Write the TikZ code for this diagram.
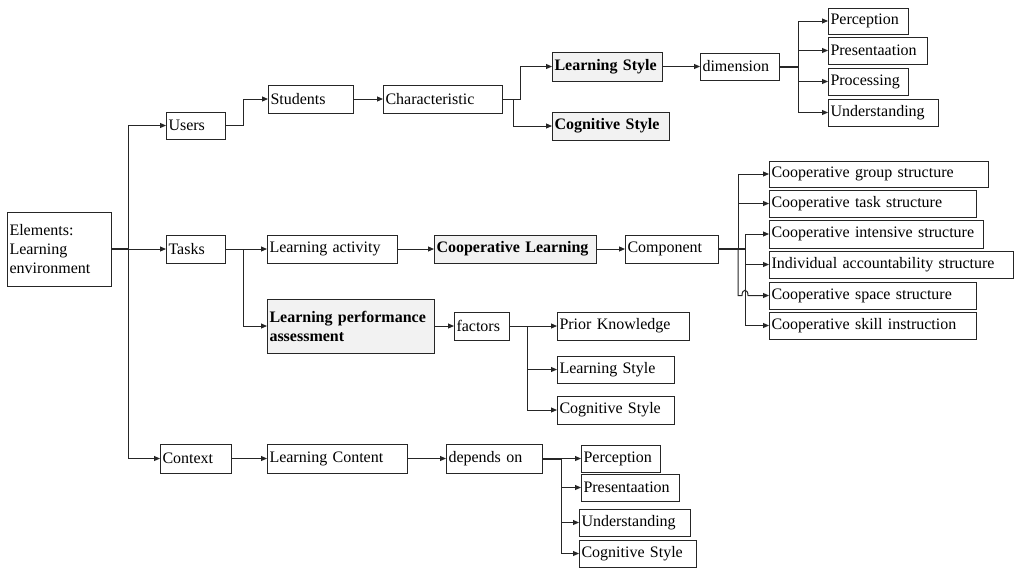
\documentclass[tikz,border=0pt]{standalone}
\usepackage{fontspec}
\setmainfont{Liberation Serif}
\usetikzlibrary{arrows.meta}
\definecolor{linec}{HTML}{262626}
\definecolor{hilite}{HTML}{F2F2F2}
\tikzset{
  box/.style={draw=linec, line width=1pt, anchor=north west, inner xsep=2.5pt,
    inner ysep=0pt, outer sep=0pt, align=left, font=\fontsize{16}{19}\selectfont},
  keybox/.style={box, fill=hilite, font=\fontsize{16}{19}\selectfont\bfseries},
  link/.style={draw=linec, line width=1pt, -{Triangle[length=6pt,width=5pt]}},
  trunk/.style={draw=linec, line width=2pt},
}
\begin{document}
\begin{tikzpicture}[x=1pt, y=-1pt]
\useasboundingbox (0,0) rectangle (1014,568);

% root and first level
\node[box, text width=99pt, minimum height=74pt] (elem) at (7,212) {Elements:\\Learning\\environment};
\node[box, text width=54pt, minimum height=27pt] (users) at (166,112) {Users};
\node[box, text width=54pt, minimum height=28pt] (tasks) at (166,235) {Tasks};
\node[box, text width=66pt, minimum height=29pt] (context) at (160,444) {Context};

% users branch
\node[box, text width=80pt, minimum height=28pt] (students) at (268,85) {Students};
\node[box, text width=114pt, minimum height=28pt] (char) at (383,85) {Characteristic};
\node[keybox, text width=105pt, minimum height=29pt] (ls) at (552,52) {Learning Style};
\node[keybox, text width=112pt, minimum height=28pt] (cs) at (552,112) {Cognitive Style};
\node[box, text width=74pt, minimum height=27pt] (dim) at (700,53) {dimension};
\node[box, text width=75pt, minimum height=26pt] (perA) at (828,8) {Perception};
\node[box, text width=94pt, minimum height=27pt] (preA) at (828,37) {Presentaation};
\node[box, text width=75pt, minimum height=27pt] (proA) at (828,68) {Processing};
\node[box, text width=105pt, minimum height=27pt] (undA) at (828,99) {Understanding};

% tasks branch
\node[box, text width=125pt, minimum height=28pt] (la) at (267,235) {Learning activity};
\node[keybox, text width=157pt, minimum height=28pt] (cl) at (434,235) {Cooperative Learning};
\node[box, text width=88pt, minimum height=28pt] (comp) at (625,235) {Component};
\node[box, text width=214pt, minimum height=26pt] (s1) at (769,161) {Cooperative group structure};
\node[box, text width=202pt, minimum height=27pt] (s2) at (769,190) {Cooperative task structure};
\node[box, text width=209pt, minimum height=28pt] (s3) at (769,220) {Cooperative intensive structure};
\node[box, text width=239pt, minimum height=27pt] (s4) at (769,251) {Individual accountability structure};
\node[box, text width=202pt, minimum height=27pt] (s5) at (769,282) {Cooperative space structure};
\node[box, text width=202pt, minimum height=27pt] (s6) at (769,312) {Cooperative skill instruction};
\node[keybox, text width=162pt, minimum height=54pt] (lpa) at (267,299) {Learning performance\\assessment};
\node[box, text width=50pt, minimum height=28pt] (fac) at (454,312) {factors};
\node[box, text width=127pt, minimum height=28pt] (pk) at (557,312) {Prior Knowledge};
\node[box, text width=112pt, minimum height=27pt] (lsB) at (557,356) {Learning Style};
\node[box, text width=112pt, minimum height=28pt] (csB) at (557,396) {Cognitive Style};

% context branch
\node[box, text width=135pt, minimum height=29pt] (lc) at (267,444) {Learning Content};
\node[box, text width=91pt, minimum height=29pt] (dep) at (446,444) {depends on};
\node[box, text width=74pt, minimum height=27pt] (perC) at (581,445) {Perception};
\node[box, text width=93pt, minimum height=27pt] (preC) at (581,474) {Presentaation};
\node[box, text width=106pt, minimum height=27pt] (undC) at (579,509) {Understanding};
\node[box, text width=112pt, minimum height=27pt] (csC) at (579,540) {Cognitive Style};

% connectors from the root
\coordinate (root) at ([xshift=17pt]elem.east);
\draw[trunk] (elem.east) -- (root);
\draw[link] (root) |- (users.west);
\draw[link] (root) -- (tasks.west);
\draw[link] (root) |- (context.west);

% users connectors
\draw[link] (users.east) -- ++(18,0) |- (students.west);
\draw[link] (students.east) -- (char.west);
\draw[link] (char.east) -- ++(18,0) |- (ls.west);
\draw[link] ([xshift=11pt]char.east) |- (cs.west);
\draw[link] (ls.east) -- (dim.west);
\coordinate (dimfork) at ([xshift=19pt]dim.east);
\draw[trunk] (dim.east) -- (dimfork);
\foreach \t in {perA,preA,proA,undA} \draw[link] (dimfork) |- (\t.west);

% tasks connectors
\draw[link] (tasks.east) -- (la.west);
\draw[link] ([xshift=18pt]tasks.east) |- (lpa.west);
\draw[link] (la.east) -- (cl.west);
\draw[link] (cl.east) -- (comp.west);
\coordinate (cfA) at ([xshift=20pt]comp.east);
\coordinate (cfB) at ([xshift=27pt]comp.east);
\draw[trunk] (comp.east) -- (cfB);
\draw[link] (cfA) |- (s1.west);
\draw[link] (cfA) |- (s2.west);
\draw[link] (cfB) |- (s3.west);
\draw[link] (cfB) |- (s4.west);
\draw[link] (cfA) |- ([xshift=-27pt]s5.west)
  .. controls +(0,-7) and +(0,-7) .. ([xshift=-21pt]s5.west) -- (s5.west);
\draw[link] (cfB) |- (s6.west);
\draw[link] (lpa.east) -- (fac.west);
\coordinate (facfork) at ([xshift=18pt]fac.east);
\draw[link] (fac.east) -- (pk.west);
\draw[link] (facfork) |- (lsB.west);
\draw[link] (facfork) |- (csB.west);

% context connectors
\draw[link] (context.east) -- (lc.west);
\draw[link] (lc.east) -- (dep.west);
\coordinate (depfork) at ([xshift=19pt]dep.east);
\draw[trunk] (dep.east) -- (depfork);
\foreach \t in {perC,preC,undC,csC} \draw[link] (depfork) |- (\t.west);
\end{tikzpicture}
\end{document}
